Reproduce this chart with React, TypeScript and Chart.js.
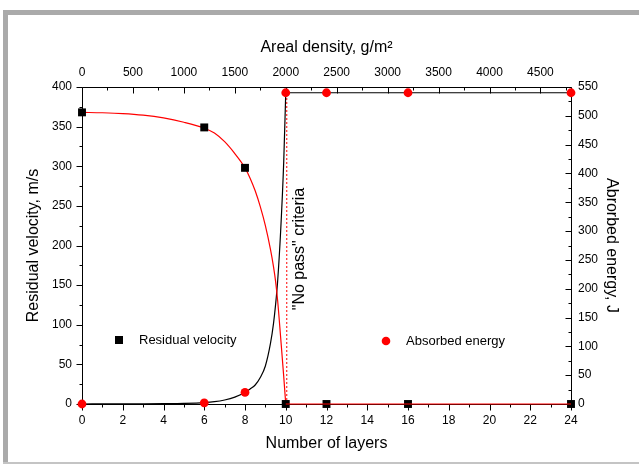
import React, { useEffect, useRef } from 'react';
import { Chart, registerables } from 'chart.js';

Chart.register(...registerables);

// Measured points
const layers = [0, 6, 8, 10, 12, 16, 24];
const residualVelocity = [368, 349, 298, 0, 0, 0, 0];
const absorbedEnergy = [0, 2, 20, 540, 540, 540, 540];

// Fitted curves
const fitLayers = [0, 1, 2, 3, 4, 5, 6, 6.5, 7, 7.5, 8, 8.25, 8.5, 8.75, 9, 9.25, 9.4, 9.5, 9.6, 9.75, 9.9, 10];
const velocityFit = [368, 367.5, 366.5, 364.5, 361, 355.5, 348, 342, 331, 316, 298, 285, 269, 249, 225, 195, 173, 155, 131, 84, 35, 0];
const energyFit = [0, 0.1, 0.2, 0.4, 0.7, 1.2, 2.5, 4, 7, 12, 20, 26, 33, 46, 66, 105, 140, 172, 212, 300, 420, 540];

// Plateaus after perforation limit
const plateauLayers = [10, 24];
const velocityPlateau = [0, 0];
const energyPlateau = [540, 540];

// "No pass" criteria line
const noPassLayers = [10.05, 10.05];
const noPassEnergy = [0, 540];

// Axis ranges / ticks
const layerRange = [0, 24];
const layerStep = 2;
const densityRange = [0, 4800];
const densityTicks = [0, 500, 1000, 1500, 2000, 2500, 3000, 3500, 4000, 4500];
const densityStep = 500;
const velocityRange = [0, 400];
const velocityStep = 50;
const energyRange = [0, 550];
const energyStep = 50;

const FONT = '"Liberation Sans", Arial, Helvetica, sans-serif';

const pts = (xs: number[], ys: number[]) => xs.map((x, i) => ({ x, y: ys[i] }));

const axesPlugin = {
  id: 'axesFrame',
  beforeDatasetsDraw(chart: any) {
    const { ctx, chartArea, scales } = chart;
    const L = Math.round(chartArea.left) + 0.5;
    const R = Math.round(chartArea.right) + 0.5;
    const T = Math.round(chartArea.top) + 0.5;
    const B = Math.round(chartArea.bottom) + 0.5;
    ctx.save();
    ctx.strokeStyle = '#000';
    ctx.lineWidth = 1;
    ctx.beginPath();
    ctx.rect(L, T, R - L, B - T);
    ctx.stroke();

    const drawTicks = (scale: any, step: number, minorDiv: number, horizontal: boolean, base: number, dir: number) => {
      const min = scale.min, max = scale.max;
      const minor = step / minorDiv;
      const n = Math.floor((max - min) / minor + 1e-6);
      ctx.beginPath();
      for (let i = 0; i <= n; i++) {
        const v = min + i * minor;
        const isMajor = Math.abs(v / step - Math.round(v / step)) < 1e-6;
        const len = isMajor ? 6 : 3;
        const p = Math.round(scale.getPixelForValue(v)) + 0.5;
        if (horizontal) {
          ctx.moveTo(p, base);
          ctx.lineTo(p, base + dir * len);
        } else {
          ctx.moveTo(base, p);
          ctx.lineTo(base + dir * len, p);
        }
      }
      ctx.stroke();
    };
    drawTicks(scales.x, layerStep, 2, true, B, 1);
    drawTicks(scales.x2, densityStep, 2, true, T, 1);
    drawTicks(scales.y, velocityStep, 2, false, L, -1);
    drawTicks(scales.y2, energyStep, 2, false, R, -1);
    ctx.restore();
  },
  afterDraw(chart: any) {
    const { ctx } = chart;
    ctx.save();
    ctx.fillStyle = '#000';
    ctx.font = `16px ${FONT}`;
    ctx.textAlign = 'center';
    ctx.textBaseline = 'middle';
    ctx.translate(300, 249);
    ctx.rotate(-Math.PI / 2);
    ctx.fillText('"No pass" criteria', 0, 0);
    ctx.restore();

    ctx.save();
    ctx.font = `13px ${FONT}`;
    ctx.textBaseline = 'middle';
    ctx.textAlign = 'left';
    ctx.fillStyle = '#000';
    ctx.fillRect(115, 336, 8, 8);
    ctx.fillText('Residual velocity', 139, 340);
    ctx.fillStyle = '#ff0000';
    ctx.beginPath();
    ctx.arc(386, 341, 4.3, 0, Math.PI * 2);
    ctx.fill();
    ctx.fillStyle = '#000';
    ctx.fillText('Absorbed energy', 406, 341);
    ctx.restore();
  },
};

export default function App() {
  const ref = useRef<HTMLCanvasElement | null>(null);

  useEffect(() => {
    document.body.style.margin = '0';
    if (!ref.current) return;
    const tickFont = { family: FONT, size: 12 };
    const titleFont = { family: FONT, size: 16 };
    const common = {
      type: 'linear' as const,
      grid: { display: false, drawTicks: false },
      border: { display: false },
    };
    const plain = (v: any) => String(v);
    const chart = new Chart(ref.current, {
      type: 'scatter',
      data: {
        datasets: [
          {
            label: 'Absorbed energy',
            data: pts(layers, absorbedEnergy),
            yAxisID: 'y2',
            xAxisID: 'x',
            showLine: false,
            clip: false,
            pointStyle: 'circle',
            pointRadius: 4.4,
            pointBackgroundColor: '#ff0000',
            pointBorderColor: '#ff0000',
            pointBorderWidth: 0,
          },
          {
            label: 'Velocity plateau',
            data: pts(plateauLayers, velocityPlateau),
            yAxisID: 'y',
            xAxisID: 'x',
            showLine: true,
            clip: false,
            pointRadius: 0,
            borderColor: '#ff0000',
            borderWidth: 1.2,
          },
          {
            label: 'Residual velocity',
            data: pts(layers, residualVelocity),
            yAxisID: 'y',
            xAxisID: 'x',
            showLine: false,
            clip: false,
            pointStyle: 'rect',
            pointRadius: 5.6,
            pointBackgroundColor: '#000',
            pointBorderColor: '#000',
            pointBorderWidth: 0,
          },
          {
            label: 'Velocity fit',
            data: pts(fitLayers, velocityFit),
            yAxisID: 'y',
            xAxisID: 'x',
            showLine: true,
            pointRadius: 0,
            borderColor: '#ff0000',
            borderWidth: 1.2,
            cubicInterpolationMode: 'monotone',
          },
          {
            label: 'Energy plateau',
            data: pts(plateauLayers, energyPlateau),
            yAxisID: 'y2',
            xAxisID: 'x',
            showLine: true,
            pointRadius: 0,
            borderColor: '#000',
            borderWidth: 1.2,
          },
          {
            label: 'Energy fit',
            data: pts(fitLayers, energyFit),
            yAxisID: 'y2',
            xAxisID: 'x',
            showLine: true,
            pointRadius: 0,
            borderColor: '#000',
            borderWidth: 1.2,
            cubicInterpolationMode: 'monotone',
          },
          {
            label: 'No pass',
            data: pts(noPassLayers, noPassEnergy),
            yAxisID: 'y2',
            xAxisID: 'x',
            showLine: true,
            pointRadius: 0,
            borderColor: '#ff0000',
            borderWidth: 1,
            borderDash: [2, 2],
          },
        ],
      },
      options: {
        responsive: false,
        animation: false,
        devicePixelRatio: 1,
        layout: { padding: 0 },
        plugins: {
          legend: { display: false },
          tooltip: { enabled: false },
          title: { display: false },
        },
        scales: {
          x: {
            ...common,
            position: 'bottom',
            min: layerRange[0],
            max: layerRange[1],
            ticks: { stepSize: layerStep, font: tickFont, color: '#000', padding: 9, autoSkip: false, maxRotation: 0, callback: plain },
            title: { display: true, text: 'Number of layers', font: titleFont, color: '#000', padding: { top: 0, bottom: 14 } },
            afterFit: (s: any) => { s.height = 63; },
          },
          x2: {
            ...common,
            position: 'top',
            min: densityRange[0],
            max: densityRange[1],
            afterBuildTicks: (s: any) => { s.ticks = densityTicks.map((v) => ({ value: v })); },
            ticks: { font: tickFont, color: '#000', padding: 7, autoSkip: false, maxRotation: 0, callback: plain },
            title: { display: true, text: 'Areal density, g/m²', font: titleFont, color: '#000', padding: { top: 38, bottom: 0 } },
            afterFit: (s: any) => { s.height = 87; },
          },
          y: {
            ...common,
            position: 'left',
            min: velocityRange[0],
            max: velocityRange[1],
            ticks: { stepSize: velocityStep, font: tickFont, color: '#000', padding: 10, autoSkip: false, callback: plain },
            title: { display: true, text: 'Residual velocity, m/s', font: titleFont, color: '#000', padding: { top: 24, bottom: 0 } },
            afterFit: (s: any) => { s.width = 82; },
          },
          y2: {
            ...common,
            position: 'right',
            min: energyRange[0],
            max: energyRange[1],
            ticks: { stepSize: energyStep, font: tickFont, color: '#000', padding: 7, autoSkip: false, callback: plain },
            title: { display: true, text: 'Abrorbed energy, J', font: titleFont, color: '#000', padding: { top: 18, bottom: 0 } },
            afterFit: (s: any) => { s.width = 68; },
          },
        },
      },
      plugins: [axesPlugin],
    } as any);
    return () => chart.destroy();
  }, []);

  return (
    <div style={{ position: 'relative', width: 639, height: 467, background: '#fff', overflow: 'hidden' }}>
      <canvas ref={ref} width={639} height={467} style={{ position: 'absolute', left: 0, top: 0, width: 639, height: 467 }} />
      <div style={{ position: 'absolute', left: 3, top: 10, right: 0, height: 5, background: '#aaaaaa' }} />
      <div style={{ position: 'absolute', left: 3, top: 10, width: 5, height: 453, background: '#aaaaaa' }} />
      <div style={{ position: 'absolute', left: 3, top: 462, right: 0, height: 2, background: '#c4c4c4' }} />
    </div>
  );
}
